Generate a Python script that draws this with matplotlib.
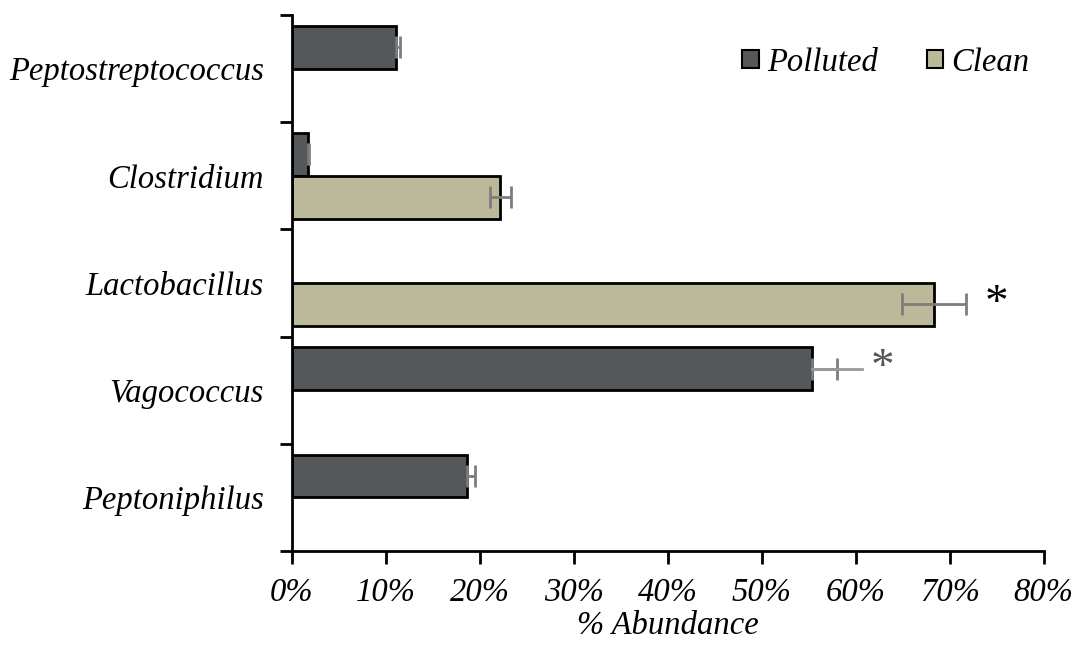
import numpy as np
import matplotlib.pyplot as plt
from matplotlib.ticker import FixedLocator, PercentFormatter
from matplotlib.patches import Patch

plt.rcParams['font.family'] = ['Liberation Serif', 'DejaVu Serif']
plt.rcParams['font.style'] = 'italic'

# categories bottom -> top
genera = ['Peptoniphilus', 'Vagococcus', 'Lactobacillus', 'Clostridium', 'Peptostreptococcus']
polluted = [18.6, 55.3, 0.0, 1.7, 11.1]
polluted_err = [0.9, 2.7, 0.0, 0.1, 0.4]
clean = [0.0, 0.0, 68.3, 22.2, 0.0]
clean_err = [0.0, 0.0, 3.4, 1.1, 0.0]

c_pol = '#54585b'
c_clean = '#bcb99a'
c_err = '#7d7d7d'
fs = 23.5

fig = plt.figure(figsize=(10.78, 6.45), dpi=100)
ax = fig.add_axes([0.2706, 0.1457, 0.6976, 0.8310])

y = np.arange(len(genera))
h = 0.4

for i in range(len(genera)):
    if polluted[i] > 0:
        ax.barh(y[i] + 0.2, polluted[i], height=h, color=c_pol, edgecolor='black', lw=2)
        ax.errorbar(polluted[i], y[i] + 0.2, xerr=[[0], [polluted_err[i]]], fmt='none',
                    ecolor=c_err, elinewidth=2, capsize=8, capthick=2)
    if clean[i] > 0:
        ax.barh(y[i] - 0.2, clean[i], height=h, color=c_clean, edgecolor='black', lw=2)
        ax.errorbar(clean[i], y[i] - 0.2, xerr=clean_err[i], fmt='none',
                    ecolor=c_err, elinewidth=2, capsize=8, capthick=2)

# extra whisker on Vagococcus
ax.plot([polluted[1], polluted[1] + 2 * polluted_err[1]], [y[1] + 0.2] * 2, color='#999999', lw=2)

# significance marks
ax.text(75, y[2] - 0.2, '*', fontsize=34, ha='center', va='center', color='black', style='normal')
ax.text(62.8, y[1] + 0.2, '*', fontsize=34, ha='center', va='center', color='#555555', style='normal')

ax.set_xlim(0, 80)
ax.set_ylim(-0.5, 4.5)
ax.set_xticks(np.arange(0, 81, 10))
ax.xaxis.set_major_formatter(PercentFormatter(decimals=0))
ax.set_yticks(y)
ax.set_yticklabels(genera)
ax.yaxis.set_minor_locator(FixedLocator(np.arange(-0.5, 4.6, 1)))
ax.tick_params(axis='y', which='major', length=0, pad=20, labelsize=fs)
ax.tick_params(axis='y', which='minor', length=9, width=2, direction='out')
ax.tick_params(axis='x', length=9, width=2, direction='out', labelsize=fs, pad=10)
for s in ['top', 'right']:
    ax.spines[s].set_visible(False)
for s in ['left', 'bottom']:
    ax.spines[s].set_linewidth(2)
ax.set_xlabel('% Abundance', fontsize=fs, labelpad=2)

handles = [Patch(facecolor=c_pol, edgecolor='black', lw=1.5, label='Polluted'),
           Patch(facecolor=c_clean, edgecolor='black', lw=1.5, label='Clean')]
ax.legend(handles=handles, loc='upper right', bbox_to_anchor=(1.02, 0.995), ncol=2, frameon=False,
          fontsize=fs, handlelength=0.5, handleheight=0.5, handletextpad=0.25, columnspacing=1.5)

fig.savefig('out.png', dpi=100)
